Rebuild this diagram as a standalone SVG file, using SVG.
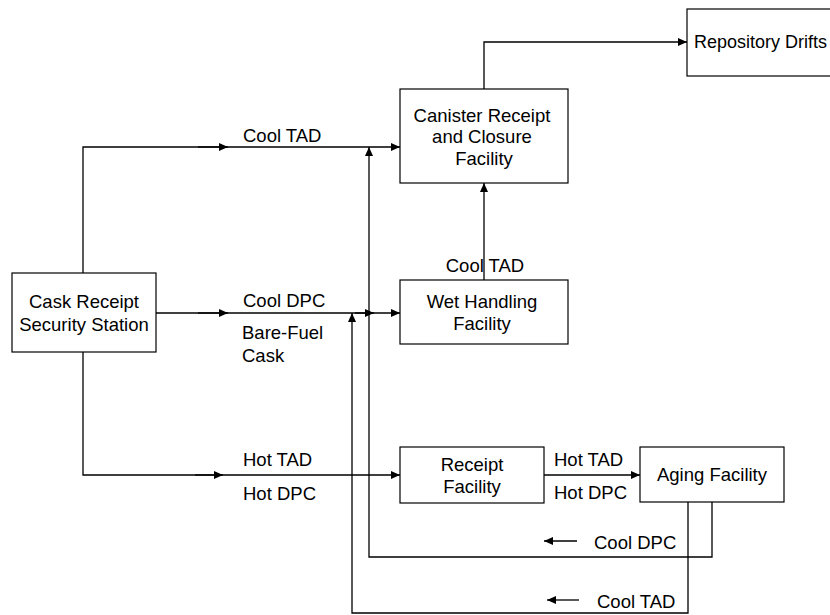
<svg xmlns="http://www.w3.org/2000/svg" width="830" height="615" viewBox="0 0 830 615">
<style>
.box{fill:#fff;stroke:#000;stroke-width:1.2}
.ln{fill:none;stroke:#000;stroke-width:1.3}
text{font-family:"Liberation Sans",Arial,sans-serif;font-size:18.5px;fill:#000}
.c{text-anchor:middle}
</style>
<defs>
<marker id="ah" markerUnits="userSpaceOnUse" markerWidth="9" markerHeight="8" viewBox="0 0 9 8" refX="9" refY="4" orient="auto">
<path d="M0,0 L9,4 L0,8 z" fill="#000"/>
</marker>
</defs>
<rect width="830" height="615" fill="#fff"/>
<g id="connectors">
<path class="ln" d="M83,273 V147 H400" marker-end="url(#ah)"/>
<path class="ln" d="M198,147 H228" marker-end="url(#ah)"/>
<path class="ln" d="M156,313 H400" marker-end="url(#ah)"/>
<path class="ln" d="M198,313 H228" marker-end="url(#ah)"/>
<path class="ln" d="M83,352 V475 H400" marker-end="url(#ah)"/>
<path class="ln" d="M195,475 H223" marker-end="url(#ah)"/>
<path class="ln" d="M544,475 H640" marker-end="url(#ah)"/>
<path class="ln" d="M484,280 V183" marker-end="url(#ah)"/>
<path class="ln" d="M484,89 V42 H687" marker-end="url(#ah)"/>
<path class="ln" d="M712,502 V557 H369 V147" marker-end="url(#ah)"/>
<path class="ln" d="M688,502 V613 H352 V313" marker-end="url(#ah)"/>
<path class="ln" d="M355,313 H374" marker-end="url(#ah)"/>
<path class="ln" d="M577,541 H544" marker-end="url(#ah)"/>
<path class="ln" d="M579,600 H547" marker-end="url(#ah)"/>
<text x="243" y="142">Cool TAD</text>
<text x="243" y="307">Cool DPC</text>
<text x="242" y="339">Bare-Fuel</text>
<text x="242" y="362">Cask</text>
<text x="243" y="466">Hot TAD</text>
<text x="243" y="500">Hot DPC</text>
<text x="554" y="466">Hot TAD</text>
<text x="554" y="499">Hot DPC</text>
<text x="485" y="272" class="c">Cool TAD</text>
<text x="594" y="549">Cool DPC</text>
<text x="597" y="608">Cool TAD</text>
</g>
<g id="cask-receipt">
<rect class="box" x="12" y="273" width="144" height="79"/>
<text x="84" y="308" class="c">Cask Receipt</text>
<text x="84" y="331" class="c">Security Station</text>
</g>
<g id="canister">
<rect class="box" x="400" y="89" width="168" height="94"/>
<text x="482" y="122" class="c">Canister Receipt</text>
<text x="482" y="143" class="c">and Closure</text>
<text x="484" y="165" class="c">Facility</text>
</g>
<g id="repository">
<rect class="box" x="687" y="9" width="160" height="67"/>
<text x="694" y="48" style="font-size:18px">Repository Drifts</text>
</g>
<g id="wet-handling">
<rect class="box" x="400" y="280" width="168" height="64"/>
<text x="482" y="308" class="c">Wet Handling</text>
<text x="482" y="330" class="c">Facility</text>
</g>
<g id="receipt">
<rect class="box" x="400" y="447" width="144" height="56"/>
<text x="472" y="471" class="c">Receipt</text>
<text x="472" y="493" class="c">Facility</text>
</g>
<g id="aging">
<rect class="box" x="640" y="447" width="144" height="55"/>
<text x="712" y="481" class="c">Aging Facility</text>
</g>
</svg>
